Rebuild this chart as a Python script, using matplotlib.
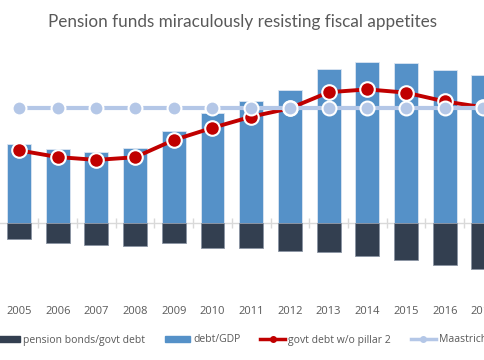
import matplotlib
matplotlib.use("Agg")
import matplotlib.pyplot as plt
from matplotlib.lines import Line2D
from matplotlib.patches import Patch
import numpy as np

years = ["2005", "2006", "2007", "2008", "2009", "2010", "2011", "2012",
         "2013", "2014", "2015", "2016", "2017"]
debt_gdp = [41.2, 38.5, 37.1, 39.1, 48.3, 57.5, 63.6, 69.4, 80.5, 84.2, 83.7, 80.0, 77.6]
pension_bonds = [-8.2, -10.6, -11.7, -12.2, -10.6, -13.2, -13.2, -14.6, -15.2, -17.3, -19.4, -22.0, -24.0]
debt_wo_pillar2 = [38.0, 34.5, 33.0, 34.4, 43.4, 49.8, 55.6, 60.0, 68.4, 69.9, 68.2, 63.6, 60.5]
maastricht = [60] * 13

c_dark = "#333F50"
c_blue = "#5591C8"
c_red = "#C00000"
c_light = "#B4C7E7"

W, H = 485, 360
fig = plt.figure(figsize=(W / 100, H / 100), dpi=100)
ax_top, ax_bot = 40, 290
ax = fig.add_axes([0, (H - ax_bot) / H, 1, (ax_bot - ax_top) / H])

x = np.arange(len(years))
bw = 0.62
ax.bar(x, debt_gdp, width=bw, color=c_blue, edgecolor="#DCE6F2", linewidth=0.6, zorder=2)
ax.bar(x, pension_bonds, width=bw, color=c_dark, edgecolor="#8A94A3", linewidth=0.6, zorder=2)
ax.plot(x, debt_wo_pillar2, color=c_red, lw=2.8, marker="o", ms=10.5, mfc=c_red,
        mec="white", mew=1.5, zorder=3)
ax.plot(x, maastricht, color=c_light, lw=3, marker="o", ms=10, mfc=c_light,
        mec="white", mew=1.5, zorder=4)

px = 38.7
ax.set_xlim(-19 / px, (W - 19) / px)
zero_px = 223
unit = 114.7 / 60
ax.set_ylim(-(ax_bot - zero_px) / unit, (zero_px - ax_top) / unit)

for s in ["top", "right", "left"]:
    ax.spines[s].set_visible(False)
ax.spines["bottom"].set_position(("data", 0))
ax.spines["bottom"].set_color("#D9D9D9")
ax.spines["bottom"].set_linewidth(1)
ax.spines["bottom"].set_zorder(1)
ax.set_yticks([])
ax.set_xticks(x[:-1] + 0.5, minor=True)
ax.set_xticks([])
ax.tick_params(axis="x", which="minor", direction="inout", length=7, color="#D9D9D9", width=1)

sec = ax.secondary_xaxis(-(312 - ax_bot) / (ax_bot - ax_top))
sec.set_xticks(x)
sec.set_xticklabels(years, fontsize=8, color="#595959", family="Open Sans")
sec.tick_params(length=0, pad=0)
sec.spines["bottom"].set_visible(False)
for lab in sec.get_xticklabels():
    lab.set_verticalalignment("center")

fig.text(243 / W, 1 - 22 / H, "Pension funds miraculously resisting fiscal appetites",
         ha="center", va="center", fontsize=12.3, color="#595959", family="Lato")

handles = [
    Patch(facecolor=c_dark, edgecolor=c_dark),
    Patch(facecolor=c_blue, edgecolor=c_blue),
    Line2D([0], [0], color=c_red, lw=2.5, marker="o", ms=4, mfc=c_red, mec=c_red),
    Line2D([0], [0], color=c_light, lw=2.5, marker="o", ms=4, mfc=c_light, mec=c_light),
]
labels = ["pension bonds/govt debt", "debt/GDP", "govt debt w/o pillar 2", "Maastricht"]
leg = fig.legend(handles, labels, loc="center left", bbox_to_anchor=(-5 / W, 1 - 340 / H),
                 ncol=4, frameon=False, handlelength=2.4, handleheight=0.45,
                 handletextpad=0.3, columnspacing=1.9, borderaxespad=0, borderpad=0,
                 prop={"family": "Open Sans", "size": 7.5})
for t in leg.get_texts():
    t.set_color("#595959")

fig.savefig("out.png", dpi=100)
